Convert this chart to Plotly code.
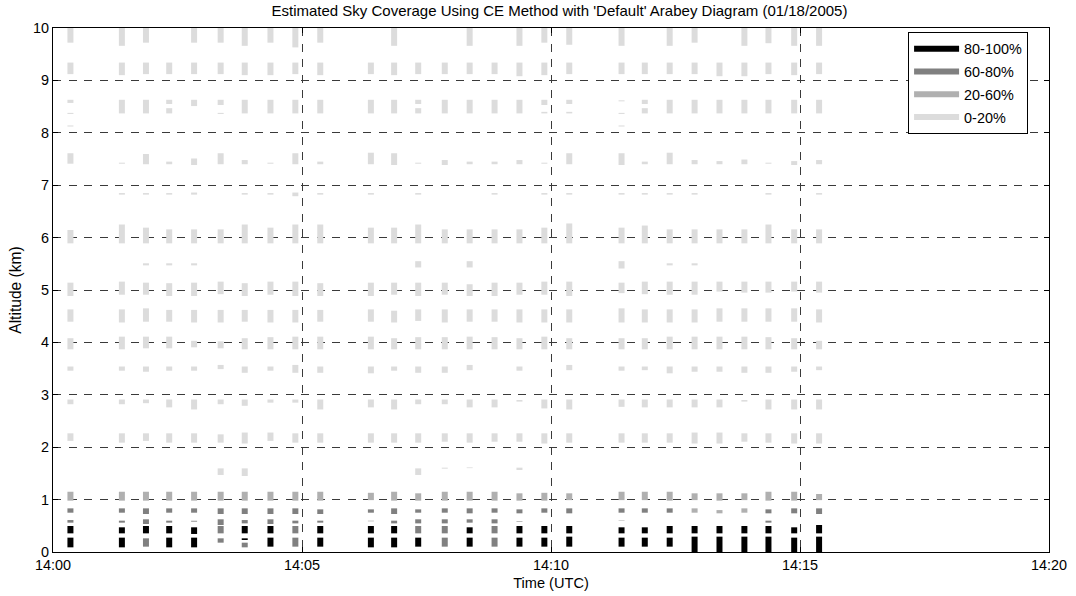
import plotly.graph_objects as go

DAY = "2005-01-18 "

# Profile times (one column of layer segments per profile)
col_times = ["14:00:21", "14:01:23", "14:01:52", "14:02:20", "14:02:50", "14:03:22", "14:03:51",
             "14:04:22", "14:04:52", "14:05:22",
             "14:06:23", "14:06:51", "14:07:20", "14:07:52", "14:08:22", "14:08:52", "14:09:22",
             "14:09:52", "14:10:22",
             "14:11:25", "14:11:53", "14:12:23", "14:12:53", "14:13:23", "14:13:53", "14:14:22",
             "14:14:53", "14:15:23"]

# coverage classes: 0 = 0-20%, 1 = 20-60%, 2 = 60-80%, 3 = 80-100%
class_labels = ["0-20%", "20-60%", "60-80%", "80-100%"]
class_colors = ["#dcdcdc", "#b0b0b0", "#808080", "#000000"]

N = None
# each band: one entry per profile -> (bottom km, top km, class) or None
band_100 = [(9.72, 10, 0), (9.66, 10, 0), (9.72, 10, 0), N, (9.72, 10, 0), (9.72, 10, 0), (9.66, 10, 0),
            (9.72, 10, 0), (9.63, 10, 0), (9.72, 10, 0),
            N, (9.66, 10, 0), N, N, (9.66, 10, 0), N, (9.66, 10, 0), (9.72, 10, 0), (9.68, 10, 0),
            (9.66, 10, 0), N, (9.66, 10, 0), (9.72, 10, 0), N, (9.66, 10, 0), (9.71, 10, 0),
            (9.66, 10, 0), (9.66, 10, 0)]
band_92 = [(9.12, 9.34, 0), (9.10, 9.34, 0), (9.12, 9.34, 0), (9.12, 9.34, 0), (9.12, 9.34, 0),
           (9.12, 9.34, 0), (9.10, 9.34, 0), (9.10, 9.34, 0), (9.12, 9.34, 0), (9.10, 9.34, 0),
           (9.12, 9.34, 0), (9.10, 9.34, 0), (9.12, 9.34, 0), (9.12, 9.34, 0), (9.12, 9.34, 0),
           (9.12, 9.34, 0), (9.08, 9.34, 0), (9.10, 9.34, 0), (9.12, 9.34, 0),
           (9.12, 9.34, 0), (9.12, 9.34, 0), (9.12, 9.34, 0), (9.12, 9.34, 0), (9.08, 9.34, 0),
           (9.08, 9.34, 0), (9.12, 9.34, 0), (9.10, 9.34, 0), (9.12, 9.34, 0)]
band_86 = [(8.57, 8.63, 0), (8.37, 8.63, 0), (8.37, 8.63, 0), (8.55, 8.63, 0), (8.51, 8.63, 0),
           (8.53, 8.63, 0), (8.37, 8.63, 0), (8.37, 8.63, 0), (8.37, 8.63, 0), (8.37, 8.63, 0),
           (8.37, 8.63, 0), (8.37, 8.63, 0), (8.55, 8.63, 0), (8.37, 8.63, 0), (8.37, 8.63, 0),
           (8.37, 8.63, 0), (8.37, 8.63, 0), (8.53, 8.63, 0), (8.55, 8.63, 0),
           (8.60, 8.62, 0), (8.55, 8.63, 0), (8.37, 8.63, 0), (8.37, 8.63, 0), (8.37, 8.63, 0),
           (8.37, 8.63, 0), (8.37, 8.63, 0), (8.37, 8.63, 0), (8.37, 8.63, 0)]
band_84 = [(8.36, 8.38, 0), N, N, (8.37, 8.47, 0), N, (8.36, 8.38, 0), N, N, N, N,
           N, N, (8.37, 8.47, 0), N, N, N, N, (8.37, 8.40, 0), (8.37, 8.40, 0),
           (8.36, 8.38, 0), (8.37, 8.47, 0), N, N, N, N, N, N, N]
band_81 = [(8.12, 8.14, 0), N, N, N, N, N, N, N, N, N,
           N, N, N, N, N, N, N, N, N,
           (8.12, 8.14, 0), N, N, N, N, N, N, N, N]
band_75 = [(7.41, 7.61, 0), (7.41, 7.43, 0), (7.40, 7.595, 0), (7.40, 7.45, 0), (7.385, 7.51, 0),
           (7.40, 7.61, 0), (7.40, 7.48, 0), (7.41, 7.43, 0), (7.40, 7.61, 0), (7.40, 7.45, 0),
           (7.40, 7.62, 0), (7.385, 7.61, 0), (7.41, 7.43, 0), (7.385, 7.48, 0), (7.40, 7.45, 0),
           (7.40, 7.45, 0), (7.40, 7.48, 0), (7.41, 7.43, 0), (7.40, 7.61, 0),
           (7.385, 7.61, 0), (7.40, 7.45, 0), (7.40, 7.62, 0), (7.40, 7.48, 0), (7.40, 7.46, 0),
           (7.40, 7.49, 0), (7.41, 7.43, 0), (7.385, 7.46, 0), (7.40, 7.48, 0)]
band_68 = [N, (6.82, 6.85, 0), (6.82, 6.85, 0), (6.82, 6.85, 0), (6.82, 6.86, 0), N, (6.82, 6.85, 0),
           (6.82, 6.85, 0), (6.79, 6.86, 0), (6.82, 6.85, 0),
           (6.82, 6.85, 0), N, (6.82, 6.85, 0), N, N, (6.82, 6.85, 0), N, (6.82, 6.85, 0), (6.82, 6.85, 0),
           (6.82, 6.85, 0), (6.82, 6.85, 0), (6.82, 6.85, 0), (6.82, 6.85, 0), N, N, (6.82, 6.85, 0),
           N, (6.82, 6.85, 0)]
band_60 = [(5.89, 6.145, 0), (5.89, 6.25, 0), (5.89, 6.19, 0), (5.89, 6.157, 0), (5.89, 6.157, 0),
           (5.89, 6.157, 0), (5.89, 6.25, 0), (5.89, 6.19, 0), (5.89, 6.25, 0), (5.89, 6.25, 0),
           (5.89, 6.19, 0), (5.89, 6.19, 0), (5.89, 6.25, 0), (5.89, 6.157, 0), (5.89, 6.157, 0),
           (5.89, 6.157, 0), (5.89, 6.157, 0), (5.89, 6.19, 0), (5.89, 6.27, 0),
           (5.89, 6.19, 0), (5.89, 6.23, 0), (5.89, 6.157, 0), (5.89, 6.157, 0), (5.89, 6.157, 0),
           (5.89, 6.157, 0), (5.89, 6.25, 0), (5.89, 6.157, 0), (5.89, 6.157, 0)]
band_55 = [N, N, (5.47, 5.51, 0), (5.47, 5.51, 0), (5.47, 5.51, 0), N, N, N, N, N,
           N, N, (5.43, 5.55, 0), N, (5.43, 5.55, 0), N, N, N, N,
           (5.41, 5.55, 0), N, (5.47, 5.51, 0), (5.47, 5.51, 0), N, N, N, N, N]
band_50 = [(4.885, 5.14, 0), (4.91, 5.16, 0), (4.91, 5.14, 0), (4.885, 5.13, 0), (4.885, 5.14, 0),
           (4.92, 5.16, 0), (4.885, 5.13, 0), (4.91, 5.16, 0), (4.885, 5.16, 0), (4.885, 5.13, 0),
           (4.885, 5.14, 0), (4.91, 5.14, 0), (4.885, 5.14, 0), (4.91, 5.14, 0), (4.885, 5.11, 0),
           (4.885, 5.14, 0), (4.91, 5.14, 0), (4.91, 5.16, 0), (4.885, 5.16, 0),
           (4.94, 5.14, 0), (4.92, 5.16, 0), (4.91, 5.16, 0), (4.91, 5.16, 0), (4.97, 5.16, 0),
           (4.95, 5.16, 0), (4.95, 5.16, 0), (4.97, 5.16, 0), (4.95, 5.16, 0)]
band_45 = [(4.395, 4.63, 0), (4.38, 4.63, 0), (4.395, 4.65, 0), (4.395, 4.62, 0), (4.38, 4.62, 0),
           (4.38, 4.62, 0), (4.395, 4.62, 0), (4.38, 4.62, 0), (4.38, 4.62, 0), (4.395, 4.62, 0),
           (4.395, 4.63, 0), (4.38, 4.605, 0), (4.41, 4.63, 0), (4.38, 4.63, 0), (4.395, 4.63, 0),
           (4.395, 4.63, 0), (4.38, 4.63, 0), (4.38, 4.63, 0), (4.38, 4.63, 0),
           (4.38, 4.65, 0), (4.38, 4.63, 0), (4.38, 4.63, 0), (4.38, 4.63, 0), (4.395, 4.65, 0),
           (4.395, 4.65, 0), (4.395, 4.65, 0), (4.395, 4.65, 0), (4.38, 4.63, 0)]
band_40 = [(3.868, 4.08, 0), (3.868, 4.11, 0), (3.887, 4.11, 0), (3.887, 4.11, 0), (3.906, 4.03, 0),
           (3.887, 4.02, 0), (3.868, 4.08, 0), (3.868, 4.10, 0), (3.868, 4.11, 0), (3.868, 4.11, 0),
           (3.868, 4.11, 0), (3.868, 4.08, 0), (3.868, 4.10, 0), (3.868, 4.10, 0), (3.868, 4.11, 0),
           (3.868, 4.10, 0), (3.868, 4.08, 0), (3.868, 4.11, 0), (3.868, 4.08, 0),
           (3.868, 4.08, 0), (3.868, 4.08, 0), (3.868, 4.11, 0), (3.868, 4.11, 0), (3.868, 4.11, 0),
           (3.868, 4.11, 0), (3.868, 4.10, 0), (3.868, 4.08, 0), (3.868, 4.03, 0)]
band_35 = [(3.46, 3.54, 0), (3.46, 3.54, 0), (3.44, 3.54, 0), (3.46, 3.54, 0), (3.46, 3.54, 0),
           (3.49, 3.57, 0), (3.42, 3.54, 0), (3.46, 3.54, 0), (3.42, 3.57, 0), (3.42, 3.54, 0),
           (3.41, 3.54, 0), (3.46, 3.54, 0), (3.42, 3.54, 0), (3.42, 3.54, 0), (3.47, 3.57, 0),
           N, (3.46, 3.54, 0), N, (3.47, 3.57, 0),
           (3.46, 3.54, 0), (3.47, 3.54, 0), (3.41, 3.54, 0), (3.44, 3.54, 0), (3.44, 3.54, 0),
           (3.42, 3.54, 0), (3.42, 3.54, 0), (3.44, 3.54, 0), (3.47, 3.54, 0)]
band_29 = [(2.82, 2.91, 0), (2.82, 2.91, 0), (2.84, 2.91, 0), (2.76, 2.91, 0), (2.72, 2.91, 0),
           (2.82, 2.91, 0), (2.79, 2.91, 0), (2.85, 2.91, 0), (2.85, 2.91, 0), (2.72, 2.91, 0),
           (2.76, 2.91, 0), (2.72, 2.91, 0), (2.82, 2.91, 0), (2.82, 2.91, 0), (2.76, 2.91, 0),
           (2.76, 2.91, 0), (2.87, 2.90, 0), (2.74, 2.91, 0), (2.72, 2.91, 0),
           (2.77, 2.91, 0), (2.76, 2.91, 0), (2.76, 2.91, 0), (2.76, 2.91, 0), (2.76, 2.91, 0),
           (2.87, 2.90, 0), (2.72, 2.91, 0), (2.72, 2.91, 0), (2.72, 2.91, 0)]
band_22 = [(2.12, 2.265, 0), (2.087, 2.265, 0), (2.12, 2.265, 0), (2.087, 2.265, 0), (2.087, 2.265, 0),
           (2.087, 2.245, 0), (2.07, 2.28, 0), (2.12, 2.28, 0), (2.087, 2.265, 0), (2.087, 2.265, 0),
           (2.087, 2.265, 0), (2.087, 2.265, 0), (2.087, 2.265, 0), (2.105, 2.265, 0), (2.087, 2.265, 0),
           (2.105, 2.265, 0), (2.105, 2.265, 0), (2.07, 2.265, 0), (2.087, 2.265, 0),
           (2.087, 2.265, 0), (2.087, 2.265, 0), (2.087, 2.265, 0), (2.07, 2.28, 0), (2.07, 2.28, 0),
           (2.105, 2.265, 0), (2.087, 2.265, 0), (2.07, 2.265, 0), (2.07, 2.265, 0)]
band_15 = [N, N, N, N, N, (1.47, 1.596, 0), (1.45, 1.596, 0), N, N, N,
           N, N, (1.47, 1.596, 0), (1.59, 1.61, 0), (1.60, 1.615, 0), N, (1.565, 1.61, 0), N, N,
           N, N, N, N, N, N, N, N, N]
band_11 = [(0.98, 1.15, 1), (0.98, 1.15, 1), (0.98, 1.15, 1), (0.98, 1.15, 1), (0.98, 1.15, 1),
           (0.98, 1.15, 1), (0.98, 1.15, 1), (0.98, 1.15, 1), (0.98, 1.15, 1), (0.98, 1.15, 1),
           (0.99, 1.13, 1), (0.98, 1.15, 1), (0.98, 1.12, 1), (0.98, 1.15, 1), (0.98, 1.15, 1),
           (0.98, 1.15, 1), (0.98, 1.12, 1), (0.98, 1.13, 1), (0.99, 1.12, 1),
           (0.99, 1.15, 1), (0.99, 1.15, 1), (0.98, 1.15, 1), (0.99, 1.12, 1), (0.98, 1.12, 1),
           (0.99, 1.12, 1), (0.98, 1.15, 1), (0.98, 1.15, 1), (0.99, 1.107, 1)]
band_08 = [(0.75, 0.833, 2), (0.75, 0.833, 2), (0.725, 0.833, 2), (0.75, 0.833, 2), (0.75, 0.833, 2),
           (0.725, 0.833, 2), (0.725, 0.833, 2), (0.725, 0.833, 2), (0.725, 0.833, 2), (0.725, 0.814, 2),
           (0.75, 0.814, 2), (0.725, 0.833, 2), (0.75, 0.814, 2), (0.75, 0.833, 2), (0.738, 0.833, 2),
           (0.75, 0.833, 2), (0.738, 0.814, 2), (0.75, 0.833, 2), (0.738, 0.833, 2),
           (0.75, 0.833, 2), (0.75, 0.833, 2), (0.75, 0.833, 2), (0.75, 0.833, 1), (0.738, 0.80, 1),
           (0.75, 0.833, 1), (0.738, 0.814, 2), (0.738, 0.833, 2), (0.725, 0.833, 2)]
band_06 = [(0.56, 0.61, 2), (0.56, 0.598, 2), (0.534, 0.624, 2), (0.56, 0.598, 2), (0.572, 0.598, 1),
           (0.515, 0.624, 2), (0.546, 0.61, 2), (0.534, 0.624, 2), (0.546, 0.598, 2), (0.56, 0.598, 2),
           (0.585, 0.598, 1), (0.546, 0.598, 2), (0.546, 0.624, 2), (0.546, 0.624, 2), (0.56, 0.624, 2),
           (0.546, 0.624, 2), (0.575, 0.585, 2), N, N,
           (0.60, 0.61, 1), N, N, N, N, N, (0.56, 0.598, 2), N, N]
band_04 = [(0.356, 0.496, 3), (0.356, 0.471, 3), (0.356, 0.496, 3), (0.356, 0.496, 3), (0.344, 0.471, 3),
           (0.356, 0.496, 2), (0.356, 0.496, 3), (0.356, 0.496, 3), (0.356, 0.496, 2), (0.356, 0.496, 3),
           (0.356, 0.496, 3), (0.356, 0.496, 3), (0.356, 0.496, 2), (0.356, 0.496, 2), (0.356, 0.471, 3),
           (0.356, 0.496, 2), (0.356, 0.496, 3), (0.356, 0.496, 3), (0.356, 0.496, 3),
           (0.356, 0.471, 3), (0.356, 0.471, 3), (0.356, 0.496, 3), (0.356, 0.496, 3), (0.356, 0.496, 3),
           (0.356, 0.496, 3), (0.356, 0.496, 3), (0.356, 0.471, 3), (0.356, 0.515, 3)]
band_02 = [(0.089, 0.274, 3), (0.089, 0.274, 3), (0.102, 0.261, 2), (0.089, 0.274, 3), (0.089, 0.274, 3),
           (0.178, 0.261, 2), (0.229, 0.261, 3), (0.102, 0.274, 3), (0.102, 0.274, 2), (0.102, 0.274, 3),
           (0.089, 0.274, 3), (0.089, 0.274, 3), (0.102, 0.274, 3), (0.102, 0.274, 2), (0.102, 0.274, 3),
           (0.102, 0.274, 2), (0.102, 0.274, 3), (0.102, 0.274, 3), (0.102, 0.293, 3),
           (0.102, 0.274, 3), (0.102, 0.274, 3), (0.102, 0.274, 3), (0.0, 0.293, 3), (0.0, 0.293, 3),
           (0.0, 0.293, 3), (0.0, 0.293, 3), (0.0, 0.274, 3), (0.0, 0.293, 3)]
band_01 = [N, N, N, N, N, N, (0.089, 0.178, 2), N, N, N,
           N, N, N, N, N, N, N, N, N,
           N, N, N, N, N, N, N, N, N]

bands = [band_100, band_92, band_86, band_84, band_81, band_75, band_68, band_60, band_55,
         band_50, band_45, band_40, band_35, band_29, band_22, band_15, band_11, band_08,
         band_06, band_04, band_02, band_01]

xs = {c: [] for c in range(4)}
ys = {c: [] for c in range(4)}
for band in bands:
    for t, seg in zip(col_times, band):
        if seg is None:
            continue
        lo, hi, c = seg
        xs[c] += [DAY + t, DAY + t, None]
        ys[c] += [lo, hi, None]

fig = go.Figure()
for c in [3, 2, 1, 0]:
    fig.add_trace(go.Scatter(
        x=xs[c], y=ys[c], mode="lines", name=class_labels[c],
        legendgroup=class_labels[c],
        line=dict(color=class_colors[c], width=6), connectgaps=False,
        hoverinfo="skip"))

FONT = "Liberation Sans, Arial, Helvetica, sans-serif"
GRID = "#3a3a3a"
fig.update_layout(
    width=1076, height=596,
    margin=dict(l=53, r=27, t=28, b=44),
    paper_bgcolor="white", plot_bgcolor="white",
    font=dict(family=FONT, size=14.4, color="black"),
    title=dict(text="Estimated Sky Coverage Using CE Method with 'Default' Arabey Diagram (01/18/2005)",
               x=0.5085, xref="paper", xanchor="center", y=1 - 11 / 596, yref="container",
               yanchor="middle", font=dict(family=FONT, size=15, color="black")),
    legend=dict(x=0.979, y=0.9925, xanchor="right", yanchor="top", bordercolor="black",
                borderwidth=1, bgcolor="white", itemwidth=45, tracegroupgap=1,
                font=dict(family=FONT, size=14.4, color="black")),
    showlegend=True,
)
fig.update_xaxes(
    type="date", range=[DAY + "14:00", DAY + "14:20"], tick0=DAY + "14:00", dtick=300000,
    tickformat="%H:%M", showline=True, linecolor="black", linewidth=1, mirror="ticks",
    ticks="inside", ticklen=5, tickcolor="black", showgrid=True, gridcolor=GRID,
    griddash="8px,7.5px", gridwidth=1, zeroline=False, tickfont=dict(size=14.4),
    title=dict(text="Time (UTC)", standoff=5, font=dict(size=14.6)), automargin=False)
fig.update_yaxes(
    range=[0, 10], tick0=0, dtick=1, showline=True, linecolor="black", linewidth=1,
    mirror="ticks", ticks="inside", ticklen=5, tickcolor="black", showgrid=True,
    gridcolor=GRID, griddash="8px,7.5px", gridwidth=1, zeroline=False, tickfont=dict(size=14.4),
    title=dict(text="Altitude (km)", standoff=7, font=dict(size=15.6)), automargin=False)

fig.write_html("out.html", config={"displayModeBar": False},
               post_script="document.body.style.margin='0';document.body.style.overflow='hidden';")
